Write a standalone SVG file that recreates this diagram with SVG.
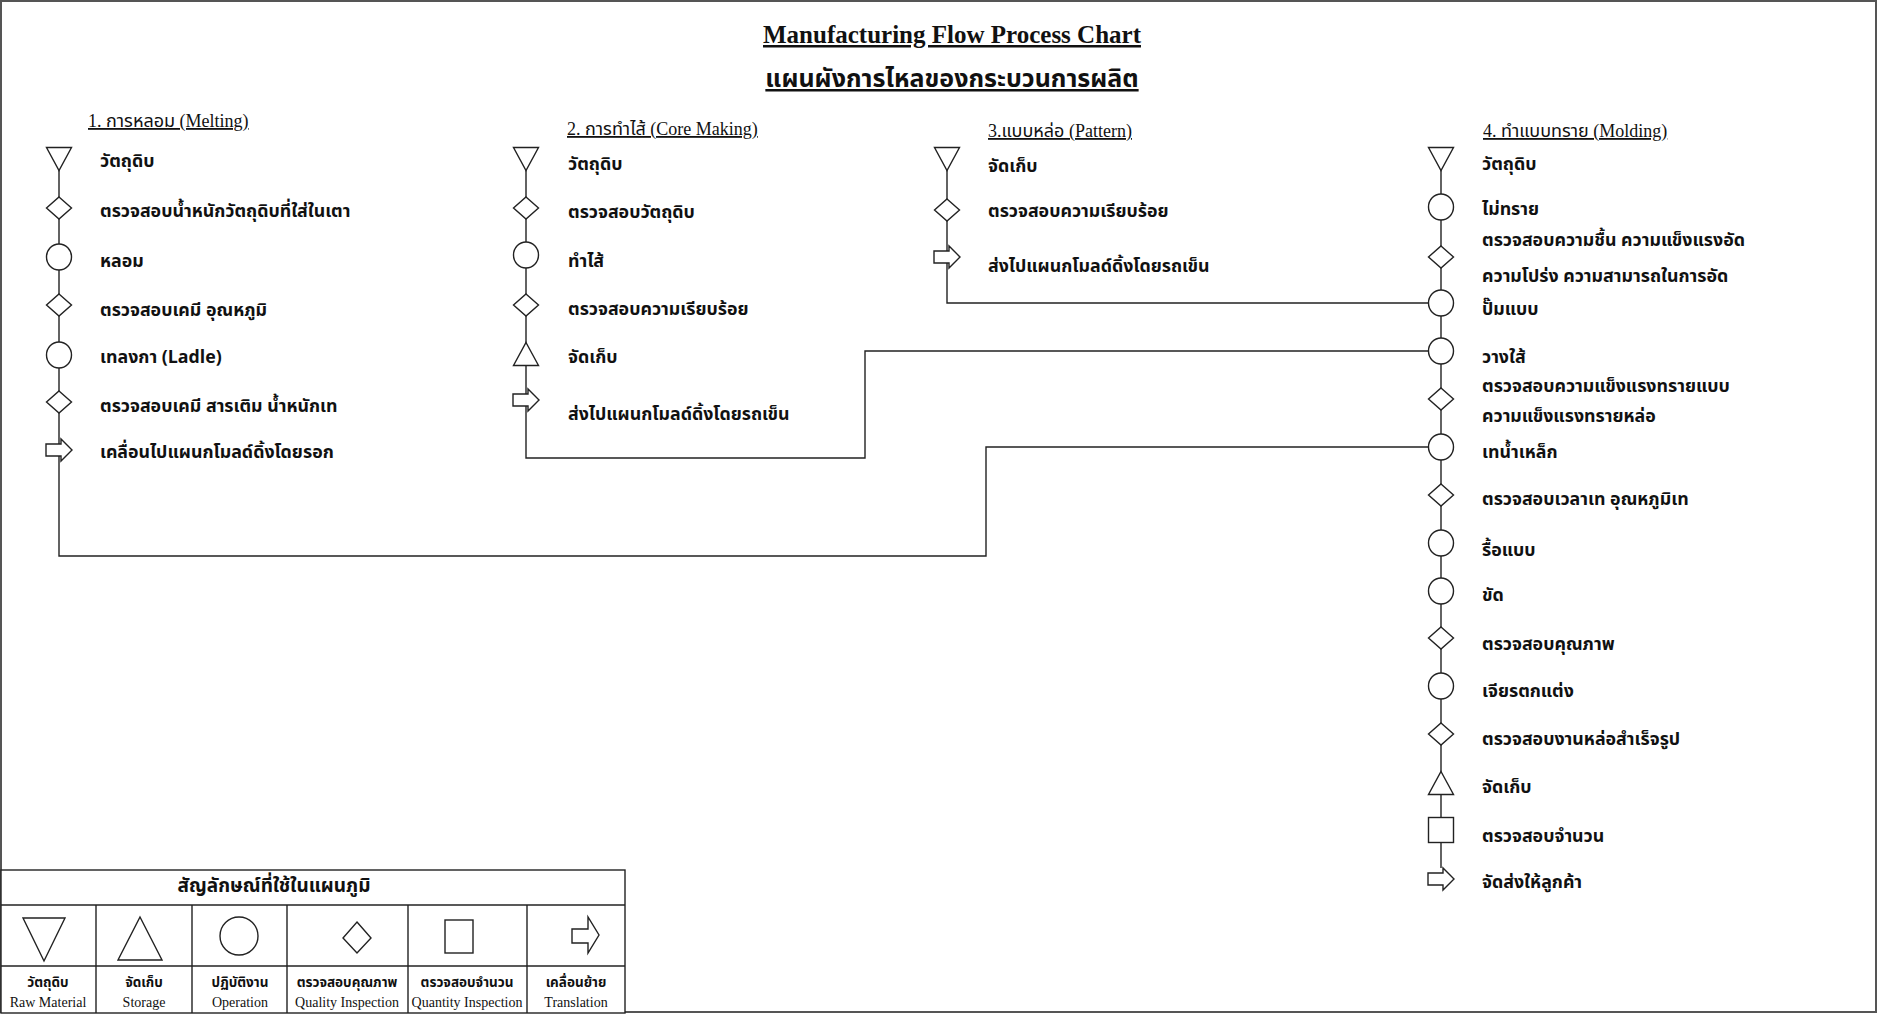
<svg xmlns="http://www.w3.org/2000/svg" width="1878" height="1017" viewBox="0 0 1878 1017">
<style>
.s{fill:#fff;stroke:#222;stroke-width:1.4}
.ln{fill:none;stroke:#222;stroke-width:1.4}
.th{font-family:"Noto Sans Thai","Noto Sans","DejaVu Sans",sans-serif;font-weight:bold;font-size:17.8px;fill:#111}
.hd{font-family:"Liberation Serif","Noto Sans Thai",serif;font-size:18px;fill:#111;text-decoration:underline}
.ttl{font-family:"Liberation Serif","Noto Sans Thai",serif;font-weight:bold;font-size:25px;fill:#111;text-decoration:underline}
.lg{font-family:"Noto Sans Thai","Noto Sans",sans-serif;font-weight:bold;font-size:13.5px;fill:#111;text-anchor:middle}
.le{font-family:"Liberation Serif",serif;font-size:14px;fill:#111;text-anchor:middle}
</style>
<defs>
<polygon id="down" class="s" points="-12.5,-11.5 12.5,-11.5 0,11.5"/>
<polygon id="up" class="s" points="0,-11.5 12.5,11.5 -12.5,11.5"/>
<polygon id="dia" class="s" points="0,-11 12.5,0 0,11 -12.5,0"/>
<ellipse id="cir" class="s" rx="12.5" ry="13"/>
<rect id="sq" class="s" x="-12.5" y="-12.5" width="25" height="25"/>
<polygon id="arr" class="s" points="-13,-6 2,-6 2,-11 13,0 2,11 2,6 -13,6"/>
</defs>
<rect x="1" y="1" width="1875" height="1011" fill="#fff" stroke="#555" stroke-width="2"/>

<g id="title">
<text class="ttl" x="952" y="43" text-anchor="middle">Manufacturing Flow Process Chart</text>
<text class="ttl" x="952" y="87" text-anchor="middle">แผนผังการไหลของกระบวนการผลิต</text>
</g>

<g id="connectors">
<polyline class="ln" points="59,170 59,556 986,556 986,447 1428,447"/>
<polyline class="ln" points="526,170 526,458 865,458 865,351 1428,351"/>
<polyline class="ln" points="947,170 947,303 1428,303"/>
<line class="ln" x1="1441" y1="170" x2="1441" y2="868"/>
</g>

<g id="col1">
<text class="hd" x="88" y="127">1. การหลอม (Melting)</text>
<g id="n1-1"><use href="#down" x="59" y="159"/><text class="th" x="100" y="167">วัตถุดิบ</text></g>
<g id="n1-2"><use href="#dia" x="59" y="208"/><text class="th" x="100" y="217">ตรวจสอบน้ำหนักวัตถุดิบที่ใส่ในเตา</text></g>
<g id="n1-3"><use href="#cir" x="59" y="257"/><text class="th" x="100" y="267">หลอม</text></g>
<g id="n1-4"><use href="#dia" x="59" y="305"/><text class="th" x="100" y="316">ตรวจสอบเคมี อุณหภูมิ</text></g>
<g id="n1-5"><use href="#cir" x="59" y="355"/><text class="th" x="100" y="363">เทลงกา (Ladle)</text></g>
<g id="n1-6"><use href="#dia" x="59" y="402"/><text class="th" x="100" y="412">ตรวจสอบเคมี สารเติม น้ำหนักเท</text></g>
<g id="n1-7"><use href="#arr" x="59" y="450"/><text class="th" x="100" y="458">เคลื่อนไปแผนกโมลด์ดิ้งโดยรอก</text></g>
</g>

<g id="col2">
<text class="hd" x="567" y="135">2. การทำไส้ (Core Making)</text>
<g id="n2-1"><use href="#down" x="526" y="159"/><text class="th" x="568" y="170">วัตถุดิบ</text></g>
<g id="n2-2"><use href="#dia" x="526" y="208"/><text class="th" x="568" y="218">ตรวจสอบวัตถุดิบ</text></g>
<g id="n2-3"><use href="#cir" x="526" y="255"/><text class="th" x="568" y="267">ทำไส้</text></g>
<g id="n2-4"><use href="#dia" x="526" y="305"/><text class="th" x="568" y="315">ตรวจสอบความเรียบร้อย</text></g>
<g id="n2-5"><use href="#up" x="526" y="354"/><text class="th" x="568" y="363">จัดเก็บ</text></g>
<g id="n2-6"><use href="#arr" x="526" y="400"/><text class="th" x="568" y="420">ส่งไปแผนกโมลด์ดิ้งโดยรถเข็น</text></g>
</g>

<g id="col3">
<text class="hd" x="988" y="137">3.แบบหล่อ (Pattern)</text>
<g id="n3-1"><use href="#down" x="947" y="159"/><text class="th" x="988" y="172">จัดเก็บ</text></g>
<g id="n3-2"><use href="#dia" x="947" y="210"/><text class="th" x="988" y="217">ตรวจสอบความเรียบร้อย</text></g>
<g id="n3-3"><use href="#arr" x="947" y="257"/><text class="th" x="988" y="272">ส่งไปแผนกโมลด์ดิ้งโดยรถเข็น</text></g>
</g>

<g id="col4">
<text class="hd" x="1483" y="137">4. ทำแบบทราย (Molding)</text>
<g id="n4-1"><use href="#down" x="1441" y="159"/><text class="th" x="1482" y="170">วัตถุดิบ</text></g>
<g id="n4-2"><use href="#cir" x="1441" y="207"/><text class="th" x="1482" y="215">ไม่ทราย</text></g>
<g id="n4-3"><use href="#dia" x="1441" y="257"/><text class="th" x="1482" y="246">ตรวจสอบความชื้น ความแข็งแรงอัด</text><text class="th" x="1482" y="282">ความโปร่ง ความสามารถในการอัด</text></g>
<g id="n4-4"><use href="#cir" x="1441" y="303"/><text class="th" x="1482" y="315">ปั๊มแบบ</text></g>
<g id="n4-5"><use href="#cir" x="1441" y="351"/><text class="th" x="1482" y="363">วางใส้</text></g>
<g id="n4-6"><use href="#dia" x="1441" y="399"/><text class="th" x="1482" y="392">ตรวจสอบความแข็งแรงทรายแบบ</text><text class="th" x="1482" y="422">ความแข็งแรงทรายหล่อ</text></g>
<g id="n4-7"><use href="#cir" x="1441" y="447"/><text class="th" x="1482" y="458">เทน้ำเหล็ก</text></g>
<g id="n4-8"><use href="#dia" x="1441" y="495"/><text class="th" x="1482" y="505">ตรวจสอบเวลาเท อุณหภูมิเท</text></g>
<g id="n4-9"><use href="#cir" x="1441" y="543"/><text class="th" x="1482" y="556">รื้อแบบ</text></g>
<g id="n4-10"><use href="#cir" x="1441" y="591"/><text class="th" x="1482" y="601">ขัด</text></g>
<g id="n4-11"><use href="#dia" x="1441" y="638"/><text class="th" x="1482" y="650">ตรวจสอบคุณภาพ</text></g>
<g id="n4-12"><use href="#cir" x="1441" y="686"/><text class="th" x="1482" y="697">เจียรตกแต่ง</text></g>
<g id="n4-13"><use href="#dia" x="1441" y="734"/><text class="th" x="1482" y="745">ตรวจสอบงานหล่อสำเร็จรูป</text></g>
<g id="n4-14"><use href="#up" x="1441" y="783"/><text class="th" x="1482" y="793">จัดเก็บ</text></g>
<g id="n4-15"><use href="#sq" x="1441" y="830"/><text class="th" x="1482" y="842">ตรวจสอบจำนวน</text></g>
<g id="n4-16"><use href="#arr" x="1441" y="879"/><text class="th" x="1482" y="888">จัดส่งให้ลูกค้า</text></g>
</g>

<g id="legend">
<rect x="1" y="870" width="624" height="143" fill="#fff" stroke="#222" stroke-width="1.4"/>
<line class="ln" x1="1" y1="905" x2="625" y2="905"/>
<line class="ln" x1="1" y1="966" x2="625" y2="966"/>
<line class="ln" x1="96" y1="905" x2="96" y2="1013"/>
<line class="ln" x1="192" y1="905" x2="192" y2="1013"/>
<line class="ln" x1="287" y1="905" x2="287" y2="1013"/>
<line class="ln" x1="408" y1="905" x2="408" y2="1013"/>
<line class="ln" x1="527" y1="905" x2="527" y2="1013"/>
<text class="th" x="274" y="892" text-anchor="middle" style="font-size:19px">สัญลักษณ์ที่ใช้ในแผนภูมิ</text>
<polygon class="s" points="23,918 65,918 44,961"/>
<polygon class="s" points="140,917 162,960 118,960"/>
<ellipse class="s" cx="239" cy="936" rx="19" ry="19"/>
<polygon class="s" points="357,922 371,938 357,953 343,938"/>
<rect class="s" x="445" y="920" width="28" height="33"/>
<polygon class="s" points="572,929 588,929 588,917 599,935 588,953 588,943 572,943"/>
<text class="lg" x="48" y="987">วัตถุดิบ</text>
<text class="lg" x="144" y="987">จัดเก็บ</text>
<text class="lg" x="240" y="987">ปฏิบัติงาน</text>
<text class="lg" x="347" y="987">ตรวจสอบคุณภาพ</text>
<text class="lg" x="467" y="987">ตรวจสอบจำนวน</text>
<text class="lg" x="576" y="987">เคลื่อนย้าย</text>
<text class="le" x="48" y="1007">Raw Material</text>
<text class="le" x="144" y="1007">Storage</text>
<text class="le" x="240" y="1007">Operation</text>
<text class="le" x="347" y="1007">Quality Inspection</text>
<text class="le" x="467" y="1007">Quantity Inspection</text>
<text class="le" x="576" y="1007">Translation</text>
</g>
</svg>
